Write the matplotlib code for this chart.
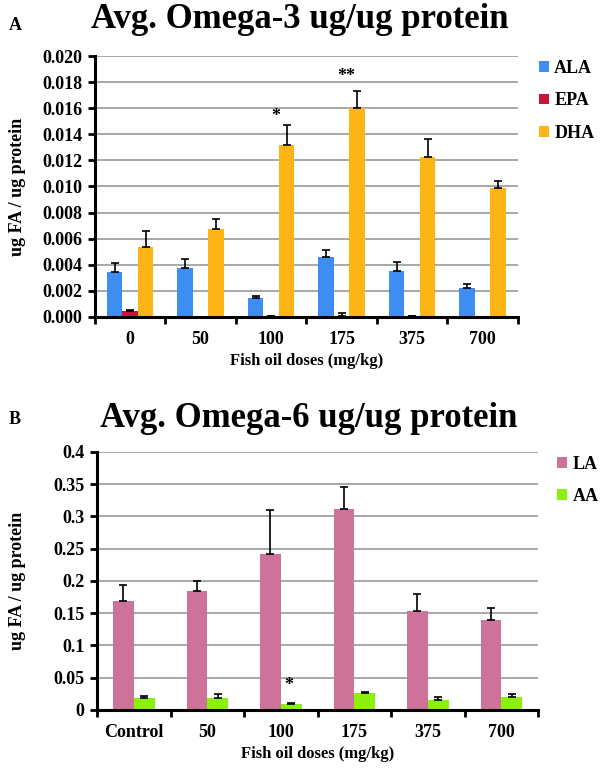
import matplotlib.pyplot as plt
import numpy as np

plt.rcParams['font.family'] = ['Liberation Serif', 'DejaVu Serif']
plt.rcParams['font.weight'] = 'bold'

# panel A data
doses_a = ['0', '50', '100', '175', '375', '700']
ala = [0.00345, 0.00375, 0.00146, 0.0046, 0.00353, 0.0022]
ala_err = [0.00068, 0.0007, 0.00015, 0.0005, 0.0007, 0.0003]
epa = [0.00045, 0.00002, 0.00005, 0.00003, 0.00008, 0.00002]
epa_err = [0.00004, 0.0, 0.0, 0.00027, 0.00002, 0.0]
dha = [0.00536, 0.00674, 0.01318, 0.016, 0.01226, 0.00989]
dha_err = [0.00125, 0.0008, 0.0015, 0.0013, 0.00138, 0.00055]
stars_a = {2: '*', 3: '**'}

# panel B data
doses_b = ['Control', '50', '100', '175', '375', '700']
la = [0.168, 0.184, 0.2415, 0.311, 0.153, 0.139]
la_err = [0.025, 0.016, 0.069, 0.034, 0.027, 0.019]
aa = [0.0186, 0.019, 0.0093, 0.026, 0.0155, 0.020]
aa_err = [0.0035, 0.006, 0.0017, 0.002, 0.0045, 0.005]
stars_b = {2: '*'}

fig = plt.figure(figsize=(6, 7.69), dpi=100)
axA = fig.add_axes([0.158, 0.588, 0.705, 0.339])
axB = fig.add_axes([0.162, 0.077, 0.735, 0.3355])


def style(ax, labels, ymax, step, fmt):
    ax.set_xlim(-0.5, len(labels) - 0.5)
    ax.set_ylim(0, ymax)
    ticks = np.arange(0, ymax + step / 2, step)
    ax.set_yticks(ticks)
    ax.set_yticklabels([fmt(t) for t in ticks], fontsize=13, fontweight='bold')
    ax.set_xticks(range(len(labels)))
    ax.set_xticklabels(labels, fontsize=13, fontweight='bold')
    ax.set_xticks(np.arange(-0.5, len(labels)), minor=True)
    ax.tick_params(axis='x', which='major', length=0, pad=10)
    ax.tick_params(axis='x', which='minor', length=5, width=2, direction='out')
    ax.tick_params(axis='y', length=5, width=2, pad=4)
    ax.yaxis.grid(True, color='#9a9a9a', linewidth=1.2)
    ax.set_axisbelow(True)
    for s in ['top', 'right']:
        ax.spines[s].set_visible(False)
    for s in ['left', 'bottom']:
        ax.spines[s].set_linewidth(2.2)
    ax.set_xlabel('Fish oil doses (mg/kg)', fontsize=12, fontweight='bold', labelpad=4)


def legend(ax, x0):
    ax.legend(loc='upper left', bbox_to_anchor=(x0, 0.985), frameon=False,
              borderpad=0, borderaxespad=0,
              handlelength=0.55, handleheight=0.55, handletextpad=0.3,
              labelspacing=0.85, prop={'size': 13, 'weight': 'bold'})


x = np.arange(len(doses_a))
w = 0.22
ek = dict(elinewidth=1.2, capsize=3, capthick=1.2, ecolor='black')
for off, vals, err, col, lab in [(-w, ala, ala_err, '#3d8ef0', 'ALA'),
                                 (0, epa, epa_err, '#c8143c', 'EPA'),
                                 (w, dha, dha_err, '#fdb515', 'DHA')]:
    axA.bar(x + off, vals, w, color=col, label=lab,
            yerr=[np.zeros(len(err)), err], error_kw=ek)
style(axA, doses_a, 0.020, 0.002, lambda t: f'{t:.3f}')
axA.set_ylabel('ug FA / ug protein', fontsize=13, fontweight='bold', labelpad=12)
for i, s in stars_a.items():
    top = dha[i] + dha_err[i]
    axA.text(i + 0.06, top + 0.0004 * len(s) + 0.0003, s, ha='center', va='center', fontsize=13)
legend(axA, 1.05)

xb = np.arange(len(doses_b))
wb = 0.285
for off, vals, err, col, lab in [(-wb / 2, la, la_err, '#cd7299', 'LA'),
                                 (wb / 2, aa, aa_err, '#8cf00f', 'AA')]:
    axB.bar(xb + off, vals, wb, color=col, label=lab,
            yerr=[np.zeros(len(err)), err], error_kw=ek)
style(axB, doses_b, 0.4, 0.05, lambda t: f'{t:g}')
axB.set_ylabel('ug FA / ug protein', fontsize=13, fontweight='bold', labelpad=20)
for i, s in stars_b.items():
    axB.text(i + 0.11, aa[i] + aa_err[i] + 0.027, s, ha='center', va='center', fontsize=13)
legend(axB, 1.043)

fig.text(0.5, 0.974, 'Avg. Omega-3 ug/ug protein', ha='center', va='center',
         fontsize=25, fontweight='bold')
fig.text(0.015, 0.967, 'A', ha='left', va='center', fontsize=13, fontweight='bold')
fig.text(0.515, 0.456, 'Avg. Omega-6 ug/ug protein', ha='center', va='center',
         fontsize=25, fontweight='bold')
fig.text(0.015, 0.455, 'B', ha='left', va='center', fontsize=13, fontweight='bold')

fig.savefig('out.png', dpi=100)
